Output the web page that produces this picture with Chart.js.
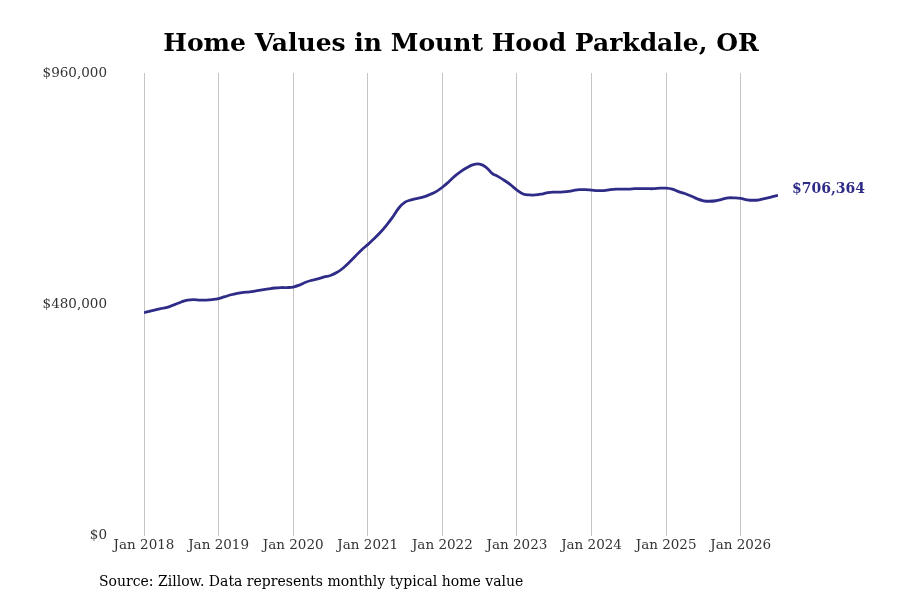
<!DOCTYPE html>
<html lang="en">
<head>
    <meta charset="UTF-8">
    <title>Home Values in Mount Hood Parkdale, OR</title>
    <script src="https://cdn.jsdelivr.net/npm/chart.js"></script>
    <style>
        html, body { margin: 0; padding: 0; background: #ffffff; }
        #wrap { width: 900px; height: 600px; position: relative; }
    </style>
</head>
<body>
    <div id="wrap"><canvas id="homeChart"></canvas></div>

    <script>
        // Monthly typical home value, Jan 2018 .. Jul 2026 (month index 0..102)
        const startYear = 2018;
        const homeValues = [
            463000, 466000, 469000, 472000, 475000, 480000, 485000, 489000, 490000, 489000, 489000, 490000,
            492000, 496000, 500000, 503000, 505000, 506000, 508000, 510000, 512000, 514000, 515000, 515000,
            516000, 520000, 526000, 530000, 533000, 537000, 540000, 546000, 555000, 567000, 580000, 593000,
            604000, 616000, 629000, 644000, 661000, 680000, 692000, 697000, 700000, 703000, 708000, 714000,
            723000, 734000, 746000, 756000, 764000, 770000, 771000, 765000, 752000, 745000, 737000, 728000,
            717000, 709000, 707000, 707000, 709000, 712000, 713000, 713000, 714000, 716000, 718000, 718000,
            717000, 716000, 716000, 718000, 719000, 719000, 719000, 720000, 720000, 720000, 720000, 721000,
            721000, 719000, 714000, 710000, 705000, 699000, 695000, 694000, 695000, 698000, 701000, 701000,
            700000, 697000, 696000, 697000, 700000, 703000, 706364
        ];
        const yTicks = [0, 480000, 960000];
        const xTickMonths = [0, 12, 24, 36, 48, 60, 72, 84, 96];
        const lastLabel = '$706,364';

        const lineColor = '#2f2c88';
        const serif = "'DejaVu Serif', serif";

        const points = homeValues.map((v, i) => ({ x: i, y: v }));

        const money = v => '$' + v.toLocaleString('en-US');

        const extras = {
            id: 'extras',
            afterDraw(chart) {
                const ctx = chart.ctx;
                ctx.save();
                // title
                ctx.fillStyle = '#000';
                ctx.font = "bold 25px " + serif;
                ctx.textAlign = 'center';
                ctx.textBaseline = 'middle';
                ctx.fillText('Home Values in Mount Hood Parkdale, OR', 461, 44);
                // source
                ctx.font = "14px " + serif;
                ctx.textAlign = 'left';
                ctx.fillText('Source: Zillow. Data represents monthly typical home value', 99, 582);
                // end label
                const meta = chart.getDatasetMeta(0);
                const last = meta.data[meta.data.length - 1];
                ctx.fillStyle = lineColor;
                ctx.font = "bold 14px " + serif;
                ctx.fillText(lastLabel, last.x + 14, last.y - 6);
                ctx.restore();
            }
        };

        new Chart(document.getElementById('homeChart'), {
            type: 'line',
            data: {
                datasets: [{
                    data: points,
                    borderColor: lineColor,
                    borderWidth: 2.8,
                    pointRadius: 0,
                    tension: 0.4,
                    fill: false
                }]
            },
            options: {
                responsive: true,
                maintainAspectRatio: false,
                animation: false,
                layout: { padding: { left: 0, right: 122, top: 73, bottom: 44 } },
                plugins: {
                    legend: { display: false },
                    tooltip: { enabled: false }
                },
                scales: {
                    x: {
                        type: 'linear',
                        min: 0,
                        max: homeValues.length - 1,
                        afterBuildTicks: s => { s.ticks = xTickMonths.map(v => ({ value: v })); },
                        ticks: {
                            callback: v => 'Jan ' + (startYear + v / 12),
                            color: '#333',
                            font: { family: serif, size: 13.5 },
                            padding: 2,
                            maxRotation: 0,
                            autoSkip: false
                        },
                        grid: { color: '#c4c4c4', drawTicks: false },
                        border: { display: false }
                    },
                    y: {
                        min: 0,
                        max: 960000,
                        afterBuildTicks: s => { s.ticks = yTicks.map(v => ({ value: v })); },
                        afterFit: s => { s.width = 144; },
                        ticks: {
                            callback: v => money(v),
                            color: '#333',
                            font: { family: serif, size: 13.5 },
                            padding: 37
                        },
                        grid: { display: false, drawTicks: false },
                        border: { display: false }
                    }
                }
            },
            plugins: [extras]
        });
    </script>
</body>
</html>
